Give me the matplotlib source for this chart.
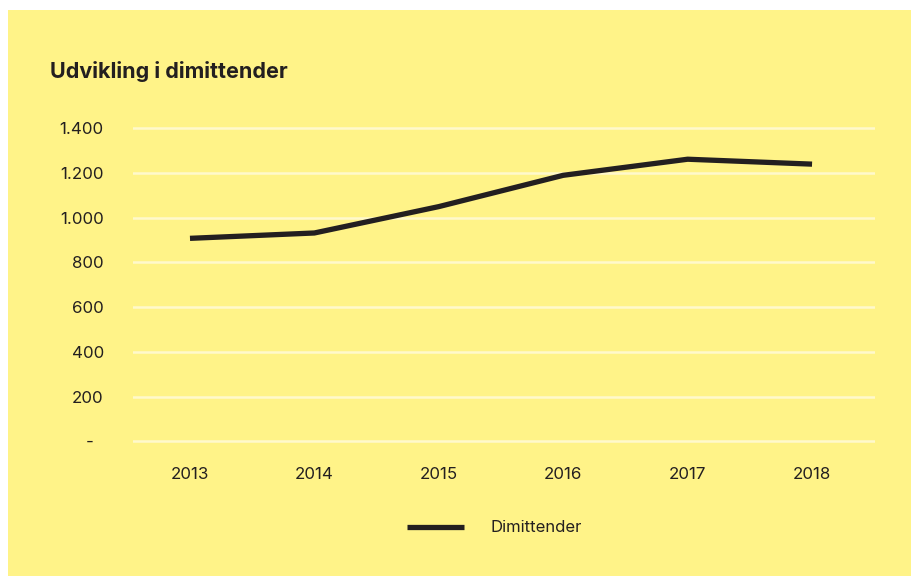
import matplotlib.pyplot as plt
from matplotlib.patches import Rectangle

years = ['2013', '2014', '2015', '2016', '2017', '2018']
dimittender = [908, 932, 1050, 1190, 1262, 1240]
yticks = [0, 200, 400, 600, 800, 1000, 1200, 1400]
ylabels = ['-  ', '200', '400', '600', '800', '1.000', '1.200', '1.400']

yellow = '#FFF388'
dark = '#231F20'
plt.rcParams['font.family'] = ['Inter', 'DejaVu Sans']

fig = plt.figure(figsize=(9.11, 5.76), dpi=100)
fig.patch.set_facecolor('white')
fig.patches.append(Rectangle((8 / 911, 0), 1, 1 - 10 / 576, transform=fig.transFigure,
                             facecolor=yellow, edgecolor='none', zorder=-5))

ax = fig.add_axes([133 / 911, 0.230, (875 - 133) / 911, 0.551])
ax.set_facecolor('none')
x = list(range(len(years)))
ax.plot(x, dimittender, color=dark, lw=3.8, solid_capstyle='butt', label='Dimittender', zorder=3)

ax.set_xlim(-0.458, 5.506)
ax.set_ylim(-10, 1410)
ax.set_xticks(x)
ax.set_xticklabels(years)
ax.set_yticks(yticks)
ax.set_yticklabels(ylabels)
ax.tick_params(length=0, labelsize=12.2, colors=dark)
ax.tick_params(axis='y', pad=21)
ax.tick_params(axis='x', pad=17)
ax.grid(axis='y', color='#FFF9CC', lw=1.8)
ax.set_axisbelow(True)
for s in ax.spines.values():
    s.set_visible(False)

fig.text(50 / 911, 1 - 78 / 576, 'Udvikling i dimittender', fontsize=15.5,
         fontweight='bold', color=dark, va='baseline')

leg = fig.legend(loc='center', bbox_to_anchor=(0.543, 1 - 528 / 576), frameon=False,
                 handlelength=3.4, handletextpad=1.6, fontsize=12)
for t in leg.get_texts():
    t.set_color(dark)

fig.savefig('out.png', dpi=100, facecolor=fig.get_facecolor())
